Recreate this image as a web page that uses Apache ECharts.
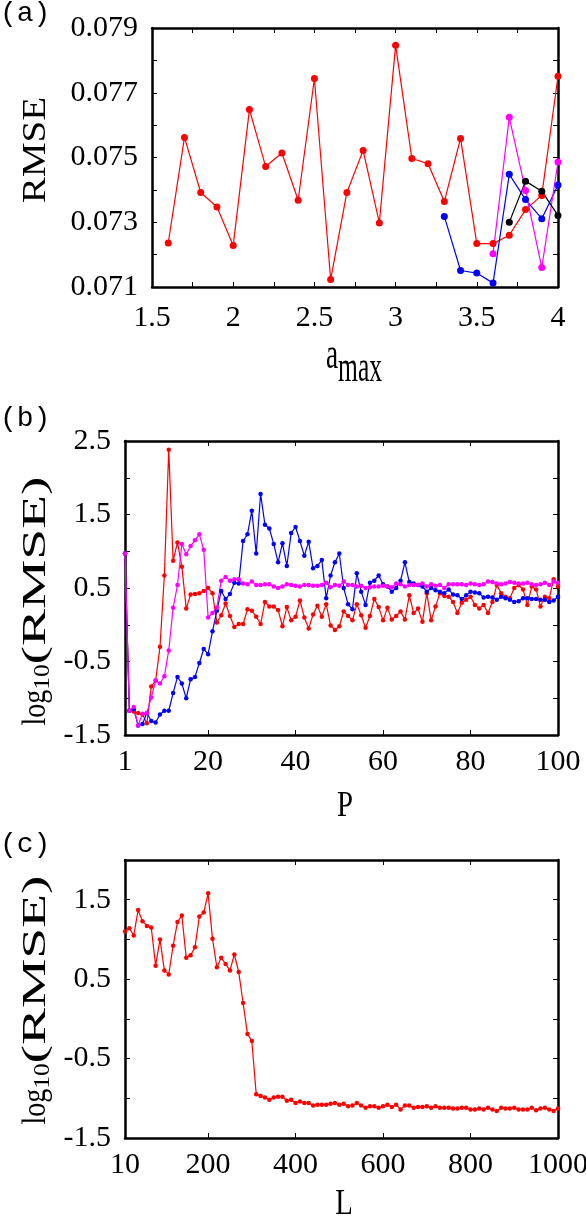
<!DOCTYPE html>
<html><head><meta charset="utf-8">
<script src="https://cdn.jsdelivr.net/npm/echarts@6/dist/echarts.min.js"></script>
<style>html,body{margin:0;padding:0;background:#fff}#c{width:586px;height:1220px}</style>
</head><body><div id="c"></div>
<script>
// ================= DATA =================
// Panel (a): RMSE vs a_max
const aMaxRed = [1.6,1.7,1.8,1.9,2.0,2.1,2.2,2.3,2.4,2.5,2.6,2.7,2.8,2.9,3.0,3.1,3.2,3.3,3.4,3.5,3.6,3.7,3.8,3.9,4.0];
const rmseRed = [0.07236,0.07562,0.07392,0.07347,0.07228,0.07648,0.07472,0.07514,0.07368,0.07744,0.07123,0.07392,0.07522,0.07298,0.07847,0.07497,0.07481,0.07364,0.07559,0.07234,0.07234,0.07260,0.07339,0.07383,0.07751];
const aMaxBlue = [3.3,3.4,3.5,3.6,3.7,3.8,3.9,4.0];
const rmseBlue = [0.07318,0.07151,0.07143,0.07112,0.07448,0.07370,0.07311,0.07415];
const aMaxMagenta = [3.6,3.7,3.8,3.9,4.0];
const rmseMagenta = [0.07203,0.07624,0.07398,0.07160,0.07486];
const aMaxBlack = [3.7,3.8,3.9,4.0];
const rmseBlack = [0.07300,0.07427,0.07396,0.07321];

// Panel (b): log10(RMSE) vs P
const P = [1,2,3,4,5,6,7,8,9,10,11,12,13,14,15,16,17,18,19,20,21,22,23,24,25,26,27,28,29,30,31,32,33,34,35,36,37,38,39,40,41,42,43,44,45,46,47,48,49,50,51,52,53,54,55,56,57,58,59,60,61,62,63,64,65,66,67,68,69,70,71,72,73,74,75,76,77,78,79,80,81,82,83,84,85,86,87,88,89,90,91,92,93,94,95,96,97,98,99,100];
const logRed_P = [0.97,-1.17,-1.18,-1.20,-1.22,-1.34,-0.84,-0.76,-0.30,0.67,2.38,0.87,1.12,0.79,0.22,0.41,0.42,0.43,0.46,0.50,0.43,0.03,0.13,0.29,0.12,-0.03,0.01,0.01,0.21,0.19,0.11,0.01,0.31,0.25,0.25,0.20,-0.02,0.24,0.06,0.11,0.33,0.10,-0.05,0.14,0.26,0.11,0.28,-0.01,-0.07,-0.02,0.18,0.12,0.06,0.28,0.13,-0.04,0.12,0.35,0.24,0.06,0.23,0.07,0.12,0.18,0.07,0.40,0.16,0.22,0.04,0.43,0.06,0.25,0.43,0.39,0.38,0.31,0.16,0.30,0.34,0.38,0.27,0.22,0.27,0.16,0.31,0.54,0.43,0.38,0.36,0.50,0.54,0.48,0.27,0.52,0.48,0.25,0.38,0.36,0.62,0.52];
const logBlue_P = [0.97,-1.17,-1.15,-1.37,-1.35,-1.20,-1.31,-1.33,-1.22,-1.17,-1.17,-0.93,-0.71,-0.80,-1.00,-0.74,-0.71,-0.52,-0.33,-0.40,-0.09,0.19,0.46,0.35,0.42,0.57,0.56,1.14,1.23,1.55,0.97,1.78,1.36,1.31,1.10,0.85,1.11,0.80,1.25,1.33,1.14,0.94,1.13,0.77,0.80,0.88,0.36,0.67,0.85,0.97,0.50,0.28,0.21,0.70,0.45,0.27,0.57,0.60,0.67,0.55,0.52,0.45,0.50,0.60,0.85,0.58,0.56,0.54,0.52,0.45,0.50,0.47,0.45,0.43,0.48,0.41,0.40,0.35,0.40,0.45,0.44,0.43,0.37,0.38,0.37,0.34,0.38,0.36,0.34,0.31,0.32,0.36,0.36,0.35,0.35,0.34,0.34,0.31,0.33,0.38];
const logMagenta_P = [0.97,-1.17,-1.12,-1.37,-1.21,-1.20,-0.99,-0.76,-0.80,-0.70,-0.35,0.23,0.54,1.10,0.96,1.07,1.15,1.23,1.02,0.10,0.16,0.23,0.60,0.65,0.60,0.62,0.62,0.56,0.55,0.59,0.54,0.54,0.55,0.55,0.52,0.50,0.52,0.55,0.54,0.53,0.52,0.54,0.54,0.53,0.53,0.54,0.57,0.51,0.54,0.53,0.59,0.54,0.54,0.52,0.53,0.50,0.51,0.52,0.52,0.53,0.52,0.51,0.56,0.55,0.52,0.54,0.54,0.54,0.56,0.52,0.55,0.53,0.54,0.50,0.55,0.55,0.55,0.55,0.54,0.56,0.55,0.54,0.55,0.59,0.58,0.56,0.55,0.56,0.58,0.57,0.56,0.56,0.57,0.55,0.54,0.55,0.57,0.54,0.59,0.57];

// Panel (c): log10(RMSE) vs L
const L = [10,20,30,40,50,60,70,80,90,100,110,120,130,140,150,160,170,180,190,200,210,220,230,240,250,260,270,280,290,300,310,320,330,340,350,360,370,380,390,400,410,420,430,440,450,460,470,480,490,500,510,520,530,540,550,560,570,580,590,600,610,620,630,640,650,660,670,680,690,700,710,720,730,740,750,760,770,780,790,800,810,820,830,840,850,860,870,880,890,900,910,920,930,940,950,960,970,980,990,1000];
const logRed_L = [1.10,1.14,1.05,1.37,1.23,1.17,1.15,0.67,1.00,0.61,0.56,0.92,1.22,1.30,0.77,0.80,0.90,1.29,1.34,1.58,1.01,0.65,0.77,0.69,0.61,0.81,0.59,0.20,-0.19,-0.28,-0.95,-0.97,-0.99,-1.02,-0.99,-0.98,-0.98,-1.03,-1.02,-1.06,-1.04,-1.06,-1.06,-1.09,-1.08,-1.08,-1.08,-1.07,-1.06,-1.08,-1.07,-1.10,-1.09,-1.06,-1.09,-1.12,-1.10,-1.10,-1.12,-1.10,-1.08,-1.11,-1.08,-1.14,-1.09,-1.09,-1.12,-1.11,-1.11,-1.10,-1.12,-1.10,-1.12,-1.12,-1.12,-1.13,-1.13,-1.12,-1.12,-1.14,-1.14,-1.13,-1.14,-1.12,-1.14,-1.16,-1.12,-1.13,-1.13,-1.12,-1.14,-1.14,-1.14,-1.12,-1.15,-1.13,-1.12,-1.14,-1.16,-1.13];

// Tick values / labels
const aXTicks = [1.5,1.75,2,2.25,2.5,2.75,3,3.25,3.5,3.75,4];
const aXLabels = [1.5,2,2.5,3,3.5,4];
const aYTicks = [0.071,0.072,0.073,0.074,0.075,0.076,0.077,0.078,0.079];
const aYLabels = [0.071,0.073,0.075,0.077,0.079];
const bXTicks = [1,20,40,60,80,100];
const bXLabels = [1,20,40,60,80,100];
const bYTicks = [-1.5,-1,-0.5,0,0.5,1,1.5,2,2.5];
const bYLabels = [-1.5,-0.5,0.5,1.5,2.5];
const cXTicks = [10,200,400,600,800,1000];
const cXLabels = [10,200,400,600,800,1000];
const cYTicks = [-1.5,-1,-0.5,0,0.5,1,1.5,2];
const cYLabels = [-1.5,-0.5,0.5,1.5];

// ================= CHART =================
const zip = (xs, ys) => xs.map((x, i) => [x, ys[i]]);
const SERIF = 'Liberation Serif';
const lblStyle = {fontFamily: SERIF, fontSize: 30, color: '#000'};
const lineAx = {show: true, onZero: false, lineStyle: {color: '#000', width: 2.5}};

function xAxes(gi, min, max, ticks, labels, fmt, margin) {
  const tick = {show: true, inside: true, length: 5, customValues: ticks, lineStyle: {color: '#000', width: 1}};
  return [
    {gridIndex: gi, type: 'value', min, max, position: 'bottom', axisLine: lineAx, axisTick: tick,
     axisLabel: Object.assign({margin, customValues: labels, formatter: fmt, showMinLabel: true, showMaxLabel: true, hideOverlap: false}, lblStyle),
     splitLine: {show: false}},
    {gridIndex: gi, type: 'value', min, max, position: 'top', axisLine: lineAx, axisTick: tick,
     axisLabel: {show: false}, splitLine: {show: false}}
  ];
}
function yAxes(gi, min, max, ticks, labels, fmt) {
  const tick = {show: true, inside: true, length: 5, customValues: ticks, lineStyle: {color: '#000', width: 1}};
  return [
    {gridIndex: gi, type: 'value', min, max, position: 'left', axisLine: lineAx, axisTick: tick,
     axisLabel: Object.assign({margin: 14, customValues: labels, formatter: fmt, showMinLabel: true, showMaxLabel: true, hideOverlap: false}, lblStyle),
     splitLine: {show: false}},
    {gridIndex: gi, type: 'value', min, max, position: 'right', axisLine: lineAx, axisTick: tick,
     axisLabel: {show: false}, splitLine: {show: false}}
  ];
}
function line(name, data, color, gi, size) {
  return {name, type: 'line', data, xAxisIndex: gi * 2, yAxisIndex: gi * 2, clip: false,
    symbol: 'circle', symbolSize: size, showSymbol: true, showAllSymbol: true,
    itemStyle: {color}, lineStyle: {color, width: 1.2}, emphasis: {disabled: true}, z: 2};
}

const mctx = document.createElement('canvas').getContext('2d');
function tw(t, s, fam) { mctx.font = s + 'px "' + fam + '"'; return mctx.measureText(t).width; }
function title(cx, cy, rot, parts, fam) {
  fam = fam || SERIF;
  const W = parts.reduce((a, p) => a + tw(p.t, p.s, fam) * (p.sx || 1), 0);
  let x = -W / 2;
  const children = [];
  for (const p of parts) {
    children.push({type: 'text', x: x, y: p.dy || 0, scaleX: p.sx || 1,
      style: {text: p.t, fontSize: p.s, fontFamily: fam, fill: '#000', align: 'left', verticalAlign: 'middle'}});
    x += tw(p.t, p.s, fam) * (p.sx || 1);
  }
  return {type: 'group', x: cx, y: cy, rotation: rot ? Math.PI / 2 : 0, children};
}
function panelLabel(t, y) {
  return {type: 'text', x: 0, y: y, style: {text: t, fontSize: 28, fontFamily: 'Liberation Mono', fill: '#000', align: 'left', verticalAlign: 'middle'}};
}

const f3 = v => Number(v).toFixed(3);
const f1 = v => Number(v).toFixed(1);
const fg = v => String(Math.round(v * 100) / 100);

const option = {
  animation: false,
  backgroundColor: '#fff',
  grid: [
    {left: 152, right: 28, top: 28, height: 259, containLabel: false, outerBoundsMode: 'none'},
    {left: 125, right: 28, top: 441, height: 294, containLabel: false, outerBoundsMode: 'none'},
    {left: 125, right: 28, top: 860, height: 278, containLabel: false, outerBoundsMode: 'none'}
  ],
  xAxis: [].concat(
    xAxes(0, 1.5, 4, aXTicks, aXLabels, fg, 16),
    xAxes(1, 1, 100, bXTicks, bXLabels, fg, 12),
    xAxes(2, 10, 1000, cXTicks, cXLabels, fg, 12)
  ),
  yAxis: [].concat(
    yAxes(0, 0.071, 0.079, aYTicks, aYLabels, f3),
    yAxes(1, -1.5, 2.5, bYTicks, bYLabels, f1),
    yAxes(2, -1.5, 2.0, cYTicks, cYLabels, f1)
  ),
  series: [
    line('a-red', zip(aMaxRed, rmseRed), '#ff0000', 0, 7),
    line('a-blue', zip(aMaxBlue, rmseBlue), '#0000ff', 0, 7),
    line('a-magenta', zip(aMaxMagenta, rmseMagenta), '#ff00ff', 0, 7),
    line('a-black', zip(aMaxBlack, rmseBlack), '#000000', 0, 7),
    line('b-red', zip(P, logRed_P), '#ff0000', 1, 4.5),
    line('b-blue', zip(P, logBlue_P), '#0000ff', 1, 4.5),
    line('b-magenta', zip(P, logMagenta_P), '#ff00ff', 1, 4.5),
    line('c-red', zip(L, logRed_L), '#ff0000', 2, 4.5)
  ],
  graphic: [
    panelLabel('(a)', 14),
    panelLabel('(b)', 419),
    panelLabel('(c)', 845),
    title(36, 150, true, [{t: 'RMSE', s: 34, sx: 1.15}]),
    title(354, 356, false, [{t: 'a', s: 44, sx: 0.62}, {t: 'max', s: 44, sx: 0.58, dy: 13}]),
    title(36, 601, true, [{t: 'log', s: 33, sx: 0.85}, {t: '10', s: 23, sx: 1.1, dy: 7}, {t: '(RMSE)', s: 33, sx: 1.68}]),
    title(345, 807, false, [{t: 'P', s: 36, sx: 0.8}]),
    title(36, 1000, true, [{t: 'log', s: 33, sx: 0.85}, {t: '10', s: 23, sx: 1.1, dy: 7}, {t: '(RMSE)', s: 33, sx: 1.68}]),
    title(344, 1205, false, [{t: 'L', s: 36, sx: 0.8}])
  ]
};
const chart = echarts.init(document.getElementById('c'), null, {renderer: 'canvas'});
chart.setOption(option);
</script>
</body></html>
